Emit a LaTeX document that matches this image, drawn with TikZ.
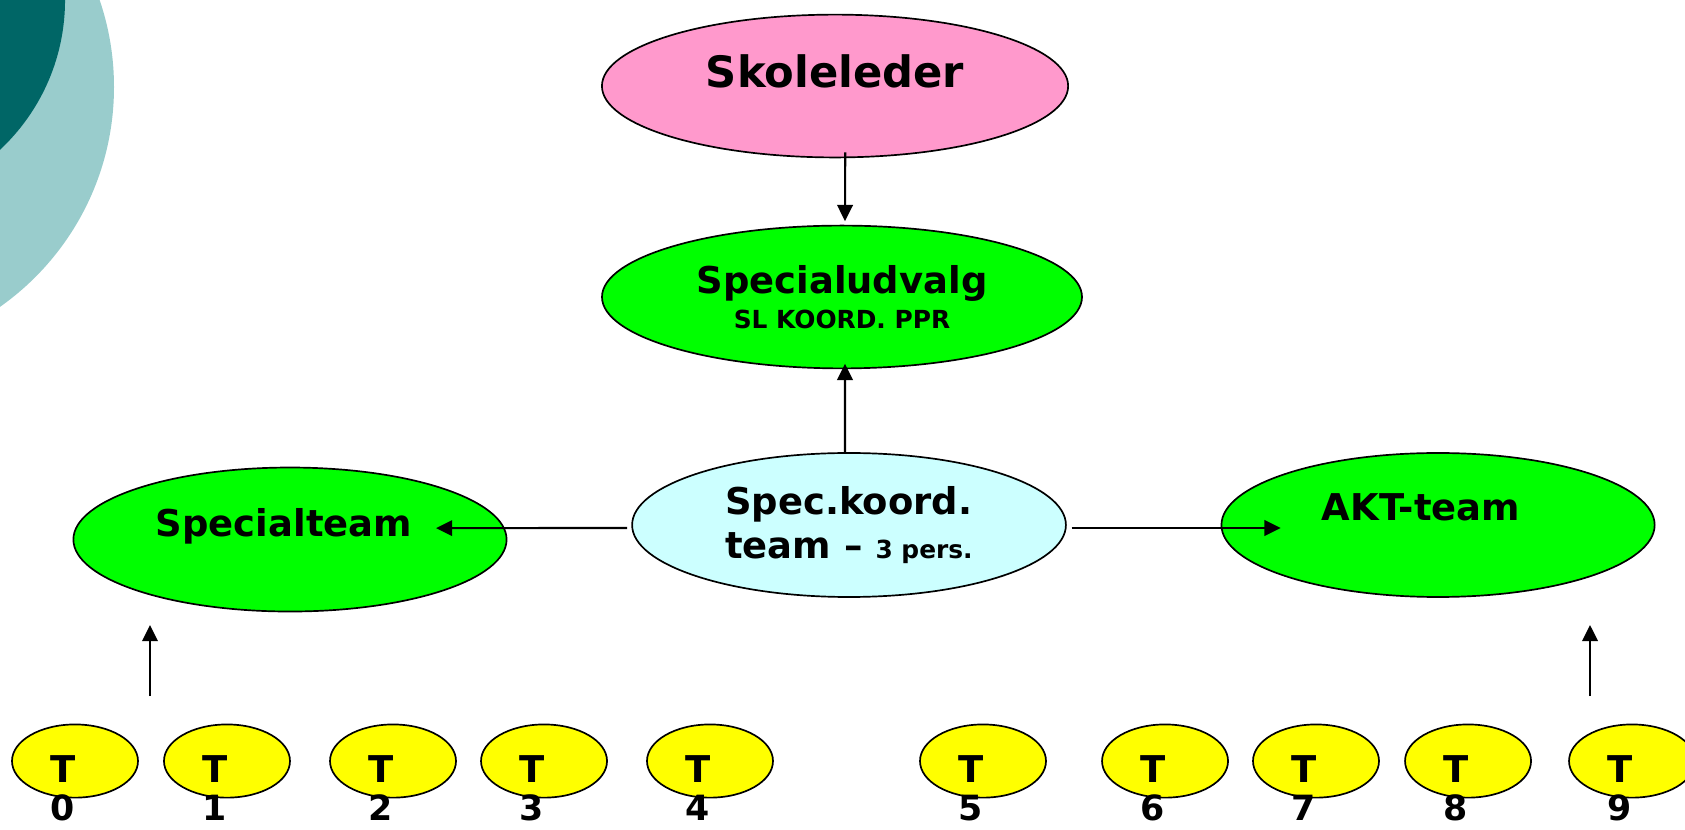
\documentclass[tikz,border=0pt]{standalone}
\usepackage{fontspec}
\setmainfont{DejaVu Sans}
\usetikzlibrary{shapes.geometric, arrows.meta, positioning}

\definecolor{tealdark}{HTML}{006666}
\definecolor{tealpale}{HTML}{99CCCC}
\definecolor{pinkfill}{HTML}{FF99CC}
\definecolor{greenfill}{HTML}{00FF00}
\definecolor{cyanfill}{HTML}{CCFFFF}
\definecolor{yellowfill}{HTML}{FFFF00}

\tikzset{
    oval/.style={ellipse, draw, line width=0.8pt, inner sep=0pt},
    bigoval/.style={oval, minimum width=7.22cm, minimum height=2.4cm},
    toptext/.style={font=\bfseries\fontsize{20.5}{24}\selectfont},
    midtext/.style={font=\bfseries\fontsize{17.5}{21}\selectfont},
    tnode/.style={oval, fill=yellowfill, minimum width=2.1cm, minimum height=1.22cm},
    tlab/.style={midtext, xshift=-0.2cm, yshift=-0.13cm},
    num/.style={font=\bfseries\fontsize{16.5}{20}\selectfont, anchor=base, inner sep=0pt},
    arr/.style={-{Triangle[length=0.27cm, width=0.26cm]}, line width=1pt}
}

\begin{document}
\begin{tikzpicture}
    \useasboundingbox (0,0) rectangle (28.083,13.817);

    % Corner decoration
    \begin{scope}
        \clip (0,0) rectangle (28.083,13.817);
        \fill[tealpale] (-2.583,12.367) circle (4.483cm);
        \fill[tealdark] (-2.333,13.817) circle (3.417cm);
    \end{scope}

    % Ellipses
    \node[oval, fill=pinkfill, minimum width=7.77cm, minimum height=2.38cm,
          label={[toptext, yshift=0.25cm]center:Skoleleder}] (sl) at (13.917,12.383) {};
    \node[oval, fill=greenfill, minimum width=8cm, minimum height=2.38cm,
          midtext, align=center] (su) at (14.033,8.867)
          {Specialudvalg\\[-4.5pt]{\fontsize{11.8}{14}\selectfont SL KOORD. PPR}};
    \node[bigoval, fill=cyanfill, minimum width=7.23cm, midtext, align=left] (sk) at (14.15,5.067)
          {Spec.koord.\\team -- {\fontsize{11.8}{14}\selectfont 3 pers.}};
    \node[bigoval, fill=greenfill,
          label={[midtext, xshift=-0.1cm, yshift=0.225cm]center:Specialteam}] (st) at (4.833,4.825) {};
    \node[bigoval, fill=greenfill,
          label={[midtext, xshift=-0.283cm, yshift=0.3cm]center:AKT-team}] (akt) at (23.967,5.067) {};

    % Teachers
    \foreach \x [count=\i from 0] in {1.25,3.783,6.55,9.067,11.833,16.383,19.417,21.933,24.467,27.2} {
        \node[tnode, label={[tlab]center:T}] (t\i) at (\x,1.133) {};
        \node[num] (n\i) at (\x-0.2,0.14) {\i};
    }

    % Arrows
    \draw[arr] ([xshift=0.17cm, yshift=0.1cm]sl.south) -- ([xshift=0.05cm, yshift=0.06cm]su.north);
    \draw[arr] ([xshift=-0.067cm]sk.north) -- ([xshift=0.05cm, yshift=0.09cm]su.south);
    \draw[arr] ([xshift=-0.07cm, yshift=-0.05cm]sk.west) -- ([xshift=-1.19cm, yshift=0.19cm]st.east);
    \draw[arr] ([xshift=0.08cm, yshift=-0.05cm]sk.east) -- ([xshift=1cm, yshift=-0.05cm]akt.west);

    \coordinate (lbot) at (2.5,2.217);
    \coordinate (ltop) at (2.5,3.4);
    \coordinate (rbot) at (26.5,2.217);
    \coordinate (rtop) at (26.5,3.4);
    \draw[arr] (lbot) -- (ltop);
    \draw[arr] (rbot) -- (rtop);
\end{tikzpicture}
\end{document}
